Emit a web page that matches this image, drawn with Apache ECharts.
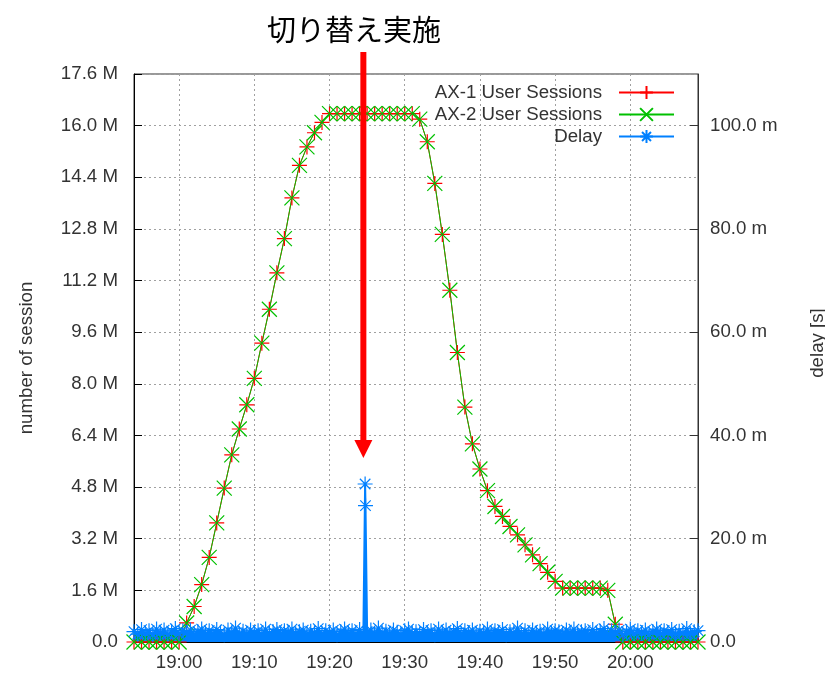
<!DOCTYPE html>
<html>
<head>
<meta charset="utf-8">
<script src="https://cdn.jsdelivr.net/npm/echarts@6/dist/echarts.min.js"></script>
<style>
html, body { margin: 0; padding: 0; background: #fff; }
#chart { width: 825px; height: 673px; }
</style>
</head>
<body>
<div id="chart"></div>
<script>
// session counts in millions, one value per minute starting at sessionStart
const sessionStart = '18:54';
const ax1Sessions = [
	0, 0, 0, 0, 0, 0, 0,
	0.59, 1.10, 1.78, 2.62, 3.69, 4.77, 5.80, 6.60, 7.35, 8.17,
	9.26, 10.31, 11.44, 12.50, 13.76, 14.77, 15.34, 15.78, 16.10,
	16.37, 16.37, 16.37, 16.37, 16.37, 16.37, 16.37, 16.37, 16.37, 16.37, 16.37, 16.37,
	16.20, 15.50, 14.21, 12.63, 10.90, 8.97, 7.28, 6.14, 5.36, 4.69,
	4.20, 3.89, 3.58, 3.32, 3.01, 2.70, 2.43, 2.16, 1.88, 1.67,
	1.67, 1.67, 1.67, 1.67, 1.67, 1.60, 0.55,
	0, 0, 0, 0, 0, 0, 0, 0, 0, 0, 0
];
const ax2Sessions = [
	0, 0, 0, 0, 0, 0, 0,
	0.59, 1.10, 1.78, 2.62, 3.69, 4.77, 5.80, 6.60, 7.35, 8.17,
	9.26, 10.31, 11.44, 12.50, 13.76, 14.77, 15.34, 15.78, 16.10,
	16.37, 16.37, 16.37, 16.37, 16.37, 16.37, 16.37, 16.37, 16.37, 16.37, 16.37, 16.37,
	16.20, 15.50, 14.21, 12.63, 10.90, 8.97, 7.28, 6.14, 5.36, 4.69,
	4.20, 3.89, 3.58, 3.32, 3.01, 2.70, 2.43, 2.16, 1.88, 1.67,
	1.67, 1.67, 1.67, 1.67, 1.67, 1.60, 0.55,
	0, 0, 0, 0, 0, 0, 0, 0, 0, 0, 0
];

// delay in ms, one sample every 30 s starting at delayStart
const delayStart = '18:54:00';
const delayStepSec = 30;
const delay = [
	2.0,1.5,2.4,1.7,2.2,1.4,2.5,1.8,2.3,1.5,2.1,2.6,1.6,2.2,1.8,
	2.3,1.5,2.0,2.5,1.6,2.2,1.7,2.4,1.9,1.4,2.3,1.8,2.7,1.6,2.1,
	1.6,2.3,1.8,2.2,1.5,2.5,1.7,2.0,2.4,1.6,2.2,1.9,2.5,1.6,2.0,
	2.3,1.5,2.1,1.8,2.6,1.6,2.2,1.8,2.3,1.4,2.0,2.5,1.7,2.2,1.6,
	2.4,1.6,2.0,2.3,1.5,2.7,1.8,2.1,1.6,2.3,1.9,1.5,2.2,2.5,1.7,
	2.0,1.6,2.4,1.8,2.2,1.4,2.5,1.8,2.3,1.6,2.0,2.6,1.6,2.2,1.8,
	2.3,1.5,2.1,1.7,2.5,1.6,2.2,1.9,2.4,1.4,2.0,1.8,2.7,1.6,2.2,
	1.6,2.3,1.8,2.1,1.5,2.5,1.7,2.2,2.0,1.5,2.3,1.8,2.5,1.6,2.0,
	2.2,1.5,2.4,1.7,2.1,2.6,1.6,2.2,1.8,2.3,1.4,2.0,2.5,1.6,2.2,
	1.8,2.3,1.5,2.0,2.5,1.6,2.2,1.8,2.4,1.5,2.1,1.7,2.6,1.6,2.0,
	2.2
];
// delay spike during the switchover
const delaySpikeTimes = ['19:24:44', '19:24:47'];
const delaySpike = [30.6, 26.4];

const switchTime = '19:24:30';
const titleText = '切り替え実施';
const xTickLabels = ['19:00', '19:10', '19:20', '19:30', '19:40', '19:50', '20:00'];

// minutes relative to 19:00
function toMin(s) {
	const p = s.split(':').map(Number);
	return (p[0] - 19) * 60 + p[1] + (p[2] || 0) / 60;
}
function fmtTime(m) {
	const h = 19 + Math.floor(m / 60);
	const mm = Math.round(m - Math.floor(m / 60) * 60);
	return h + ':' + (mm < 10 ? '0' : '') + mm;
}

const s0 = toMin(sessionStart);
const ax1Data = ax1Sessions.map((v, i) => [s0 + i, v]);
const ax2Data = ax2Sessions.map((v, i) => [s0 + i, v]);
const d0 = toMin(delayStart);
let delayData = delay.map((v, i) => [d0 + i * delayStepSec / 60, v]);
delaySpikeTimes.forEach((t, i) => delayData.push([toMin(t), delaySpike[i]]));
delayData.sort((a, b) => a[0] - b[0]);

const PLUS = 'path://M0,5L10,5M5,0L5,10';
const CROSS = 'path://M0,0L10,10M10,0L0,10';
const STAR = 'path://M0,5L10,5M5,0L5,10M1.5,1.5L8.5,8.5M8.5,1.5L1.5,8.5';

const RED = '#ff0000', GREEN = '#00c000', BLUE = '#0080ff';
const FONT = 18.7;
const tickValues = xTickLabels.map(toMin);

let myChart = echarts.init(document.getElementById('chart'));
let option = {
	animation: false,
	textStyle: { fontFamily: 'Liberation Sans' },
	title: {
		text: titleText,
		left: 262,
		top: 10,
		textStyle: { fontFamily: 'Noto Sans CJK JP', fontSize: 29, fontWeight: 'normal', color: '#000' }
	},
	legend: {
		orient: 'vertical',
		align: 'right',
		right: 145,
		top: 78,
		itemWidth: 55,
		itemHeight: 16,
		itemGap: 3,
		textStyle: { fontSize: FONT, color: '#333', fontFamily: 'Liberation Sans', padding: [0, 12, 0, 0] },
		data: ['AX-1 User Sessions', 'AX-2 User Sessions', 'Delay']
	},
	grid: {
		left: 134, top: 74, width: 564, height: 568,
		outerBoundsMode: 'none',
		containLabel: false,
		show: true, borderColor: '#333', borderWidth: 1
	},
	xAxis: {
		type: 'value',
		min: toMin('18:54'),
		max: toMin('20:09'),
		axisLine: { show: true, onZero: false, lineStyle: { color: '#000' } },
		axisTick: { inside: true, length: 8, customValues: tickValues, lineStyle: { color: '#000' } },
		axisLabel: { customValues: tickValues, formatter: fmtTime, fontSize: FONT, color: '#333', margin: 11 },
		splitLine: { show: true, lineStyle: { color: '#a0a0a0', type: [2, 3] } }
	},
	yAxis: [
		{
			type: 'value',
			min: 0, max: 17.6, interval: 1.6,
			name: 'number of session',
			nameLocation: 'middle',
			nameRotate: 90,
			nameGap: 98,
			nameTextStyle: { fontSize: FONT, color: '#333' },
			axisLine: { show: true, onZero: false, lineStyle: { color: '#000' } },
			axisTick: { inside: true, length: 8, lineStyle: { color: '#000' } },
			axisLabel: {
				fontSize: FONT, color: '#333', margin: 16,
				formatter: v => v === 0 ? '0.0' : v.toFixed(1) + ' M'
			},
			splitLine: { show: true, lineStyle: { color: '#a0a0a0', type: [2, 3] } }
		},
		{
			type: 'value',
			min: 0, max: 110, interval: 20,
			position: 'right',
			name: 'delay [s]',
			nameLocation: 'middle',
			nameRotate: 90,
			nameGap: 110,
			nameTextStyle: { fontSize: FONT, color: '#333', padding: [0, 0, 0, 30] },
			axisLine: { show: true, onZero: false, lineStyle: { color: '#333' } },
			axisTick: { inside: true, length: 8, lineStyle: { color: '#333' } },
			axisLabel: {
				fontSize: FONT, color: '#333', margin: 12, showMaxLabel: false,
				formatter: v => v === 0 ? '0.0' : v.toFixed(1) + ' m'
			},
			splitLine: { show: false }
		}
	],
	series: [
		{
			name: 'AX-1 User Sessions',
			type: 'line',
			data: ax1Data,
			symbol: PLUS,
			symbolSize: 15,
			showAllSymbol: true,
			lineStyle: { color: RED, width: 1 },
			itemStyle: { color: RED, borderColor: RED, borderWidth: 1.2 }
		},
		{
			name: 'AX-2 User Sessions',
			type: 'line',
			data: ax2Data,
			symbol: CROSS,
			symbolSize: 15,
			showAllSymbol: true,
			lineStyle: { color: GREEN, width: 1 },
			itemStyle: { color: GREEN, borderColor: GREEN, borderWidth: 1.2 }
		},
		{
			name: 'Delay',
			type: 'line',
			yAxisIndex: 1,
			data: delayData,
			symbol: STAR,
			symbolSize: 15,
			showAllSymbol: true,
			lineStyle: { color: BLUE, width: 2 },
			areaStyle: { color: BLUE, opacity: 1 },
			itemStyle: { color: BLUE, borderColor: BLUE, borderWidth: 1.2 }
		}
	]
};
myChart.setOption(option);

// red arrow marking the switchover
const ax = myChart.convertToPixel({ xAxisIndex: 0 }, toMin(switchTime));
myChart.setOption({
	graphic: [
		{
			type: 'line',
			shape: { x1: ax, y1: 52, x2: ax, y2: 442 },
			style: { stroke: '#ff0000', lineWidth: 6 },
			z: 100
		},
		{
			type: 'polygon',
			shape: { points: [[ax - 9, 440], [ax + 9, 440], [ax, 458]] },
			style: { fill: '#ff0000' },
			z: 100
		}
	]
});
</script>
</body>
</html>
